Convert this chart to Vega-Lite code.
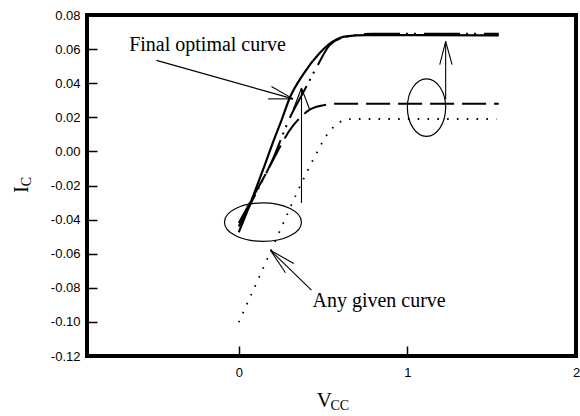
{
  "$schema": "https://vega.github.io/schema/vega-lite/v6.json",
  "width": 489,
  "height": 341,
  "autosize": {"type": "none"},
  "padding": {"left": 87, "top": 15, "right": 4, "bottom": 60},
  "background": "white",
  "datasets": {
    "curves": [
      {"curve": "final", "x": 0, "y": -0.0474},
      {"curve": "final", "x": 0.085, "y": -0.0263},
      {"curve": "final", "x": 0.144, "y": -0.0107},
      {"curve": "final", "x": 0.209, "y": 0.0069},
      {"curve": "final", "x": 0.255, "y": 0.0186},
      {"curve": "final", "x": 0.302, "y": 0.0313},
      {"curve": "final", "x": 0.381, "y": 0.045},
      {"curve": "final", "x": 0.48, "y": 0.0577},
      {"curve": "final", "x": 0.559, "y": 0.0645},
      {"curve": "final", "x": 0.638, "y": 0.0675},
      {"curve": "final", "x": 0.757, "y": 0.0682},
      {"curve": "final", "x": 1.542, "y": 0.068},
      {"curve": "dash", "x": 0, "y": -0.042},
      {"curve": "dash", "x": 0.159, "y": -0.0134},
      {"curve": "dash", "x": 0.322, "y": 0.0151},
      {"curve": "dash", "x": 0.372, "y": 0.0206},
      {"curve": "dash", "x": 0.421, "y": 0.0245},
      {"curve": "dash", "x": 0.52, "y": 0.0274},
      {"curve": "dash", "x": 0.599, "y": 0.028},
      {"curve": "dash", "x": 1.542, "y": 0.028},
      {"curve": "dot", "x": 0, "y": -0.1002},
      {"curve": "dot", "x": 0.119, "y": -0.0741},
      {"curve": "dot", "x": 0.237, "y": -0.0481},
      {"curve": "dot", "x": 0.356, "y": -0.022},
      {"curve": "dot", "x": 0.461, "y": -0.0011},
      {"curve": "dot", "x": 0.52, "y": 0.0093},
      {"curve": "dot", "x": 0.565, "y": 0.0146},
      {"curve": "dot", "x": 0.618, "y": 0.018},
      {"curve": "dot", "x": 0.673, "y": 0.019},
      {"curve": "dot", "x": 1.528, "y": 0.019},
      {"curve": "dashdot", "x": 0, "y": -0.044},
      {"curve": "dashdot", "x": 0.1, "y": -0.025},
      {"curve": "dashdot", "x": 0.2, "y": -0.005},
      {"curve": "dashdot", "x": 0.302, "y": 0.0195},
      {"curve": "dashdot", "x": 0.39, "y": 0.036},
      {"curve": "dashdot", "x": 0.468, "y": 0.0505},
      {"curve": "dashdot", "x": 0.538, "y": 0.0622},
      {"curve": "dashdot", "x": 0.627, "y": 0.067},
      {"curve": "dashdot", "x": 0.793, "y": 0.069},
      {"curve": "dashdot", "x": 1.542, "y": 0.069}
    ],
    "segments": [
      {"x": -0.488, "y": 0.0534, "x2": 0.322, "y2": 0.0308},
      {"x": 0.322, "y": 0.0308, "x2": 0.194, "y2": 0.0381},
      {"x": 0.322, "y": 0.0308, "x2": 0.174, "y2": 0.0308},
      {"x": 0.372, "y": -0.0302, "x2": 0.372, "y2": 0.0372},
      {"x": 0.372, "y": 0.0372, "x2": 0.421, "y2": 0.0244},
      {"x": 0.372, "y": 0.0372, "x2": 0.323, "y2": 0.0244},
      {"x": 1.227, "y": 0.0304, "x2": 1.227, "y2": 0.0645},
      {"x": 1.227, "y": 0.0645, "x2": 1.192, "y2": 0.0509},
      {"x": 1.227, "y": 0.0645, "x2": 1.265, "y2": 0.0509},
      {"x": 0.431, "y": -0.0814, "x2": 0.188, "y2": -0.058},
      {"x": 0.188, "y": -0.058, "x2": 0.326, "y2": -0.0658},
      {"x": 0.188, "y": -0.058, "x2": 0.277, "y2": -0.0712}
    ],
    "ellipses": [
      {"name": "wide", "x": 0.1435, "y": -0.0415},
      {"name": "tall", "x": 1.1135, "y": 0.0257}
    ],
    "notes": [
      {"kind": "note", "text": "Final optimal curve", "x": -0.65, "y": 0.0587},
      {"kind": "note", "text": "Any given curve", "x": 0.437, "y": -0.0912},
      {"kind": "suby", "text": "C", "x": -1.253, "y": -0.0177},
      {"kind": "subx", "text": "CC", "x": 0.599, "y": -0.1496}
    ]
  },
  "encoding": {
    "x": {
      "field": "x", "type": "quantitative",
      "scale": {"domain": [-0.9, 2], "nice": false, "zero": false},
      "axis": {"values": [0, 1, 2], "format": "d", "labelFlush": false, "labelPadding": 20, "title": "V", "titleAlign": "right", "titlePadding": 10}
    },
    "y": {
      "field": "y", "type": "quantitative",
      "scale": {"domain": [-0.12, 0.08], "nice": false, "zero": false},
      "axis": {"values": [-0.12, -0.1, -0.08, -0.06, -0.04, -0.02, 0, 0.02, 0.04, 0.06, 0.08], "format": ".2f", "labelExpr": "replace(datum.label, '\u2212', '-')", "labelPadding": 17, "title": "I", "titleAlign": "right", "titlePadding": 19}
    }
  },
  "layer": [
    {
      "data": {"name": "ellipses"},
      "transform": [{"filter": "datum.name === 'wide'"}],
      "mark": {"type": "point", "shape": "M -1 0 C -1 -0.276 -0.552 -0.5 0 -0.5 C 0.552 -0.5 1 -0.276 1 0 C 1 0.276 0.552 0.5 0 0.5 C -0.552 0.5 -1 0.276 -1 0 Z", "size": 5929, "filled": false, "stroke": "black", "strokeWidth": 1.2, "opacity": 1}
    },
    {
      "data": {"name": "ellipses"},
      "transform": [{"filter": "datum.name === 'tall'"}],
      "mark": {"type": "point", "shape": "M -0.667 0 C -0.667 -0.552 -0.368 -1 0 -1 C 0.368 -1 0.667 -0.552 0.667 0 C 0.667 0.552 0.368 1 0 1 C -0.368 1 -0.667 0.552 -0.667 0 Z", "size": 3295, "filled": false, "stroke": "black", "strokeWidth": 1.2, "opacity": 1}
    },
    {
      "data": {"name": "segments"},
      "mark": {"type": "rule", "color": "black", "strokeWidth": 1.1},
      "encoding": {"x2": {"field": "x2"}, "y2": {"field": "y2"}}
    },
    {
      "data": {"name": "curves"},
      "transform": [{"filter": "datum.curve === 'dot'"}],
      "mark": {"type": "line", "color": "black", "strokeWidth": 1.8, "strokeDash": [1.6, 8.2], "interpolate": "monotone"}
    },
    {
      "data": {"name": "curves"},
      "transform": [{"filter": "datum.curve === 'dash'"}],
      "mark": {"type": "line", "color": "black", "strokeWidth": 2, "strokeDash": [24, 8], "interpolate": "monotone"}
    },
    {
      "data": {"name": "curves"},
      "transform": [{"filter": "datum.curve === 'dashdot'"}],
      "mark": {"type": "line", "color": "black", "strokeWidth": 2, "strokeDash": [36, 6, 2, 6, 2, 8], "interpolate": "monotone"}
    },
    {
      "data": {"name": "curves"},
      "transform": [{"filter": "datum.curve === 'final'"}],
      "mark": {"type": "line", "color": "black", "strokeWidth": 2.2, "interpolate": "monotone"}
    },
    {
      "data": {"name": "notes"},
      "transform": [{"filter": "datum.kind === 'note'"}],
      "mark": {"type": "text", "font": "Liberation Serif", "fontSize": 20, "align": "left", "baseline": "alphabetic", "color": "black"},
      "encoding": {"text": {"field": "text"}}
    },
    {
      "data": {"name": "notes"},
      "transform": [{"filter": "datum.kind === 'suby'"}],
      "mark": {"type": "text", "font": "Liberation Serif", "fontSize": 14, "align": "center", "baseline": "middle", "angle": 270, "color": "black"},
      "encoding": {"text": {"field": "text"}}
    },
    {
      "data": {"name": "notes"},
      "transform": [{"filter": "datum.kind === 'subx'"}],
      "mark": {"type": "text", "font": "Liberation Serif", "fontSize": 14, "align": "center", "baseline": "middle", "color": "black"},
      "encoding": {"text": {"field": "text"}}
    }
  ],
  "config": {
    "view": {"stroke": "black", "strokeWidth": 4},
    "axis": {
      "domain": false, "grid": false,
      "tickColor": "black", "tickSize": -10, "tickWidth": 1.5,
      "labelFont": "Liberation Sans", "labelFontSize": 13, "labelColor": "black",
      "titleFont": "Liberation Serif", "titleFontSize": 21, "titleFontWeight": "normal", "titleColor": "black"
    }
  }
}
